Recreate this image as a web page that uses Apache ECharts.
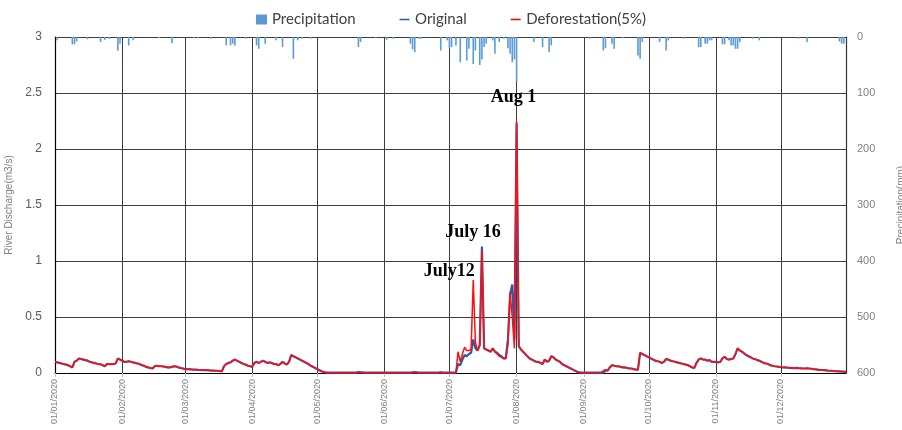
<!DOCTYPE html>
<html>
<head>
<meta charset="utf-8">
<script src="https://cdn.jsdelivr.net/npm/echarts@6/dist/echarts.min.js"></script>
<style>
html,body{margin:0;padding:0;background:#fff;}
#chart{width:902px;height:430px;}
</style>
</head>
<body>
<div id="chart"></div>
<script>
// ---------- DATA ----------
var year = 2020;
var monthLengths = [31,29,31,30,31,30,31,31,30,31,30,31];

// Original discharge (m3/s), by month
var origJan = [0.10,0.095,0.09,0.085,0.08,0.075,0.07,0.06,0.05,0.10,0.11,0.13,0.125,0.12,0.115,0.11,0.10,0.095,0.09,0.085,0.08,0.078,0.07,0.06,0.08,0.08,0.08,0.08,0.085,0.13,0.12];
var origFeb = [0.11,0.10,0.10,0.105,0.10,0.095,0.09,0.085,0.08,0.07,0.065,0.055,0.05,0.045,0.04,0.06,0.065,0.062,0.06,0.058,0.055,0.05,0.05,0.055,0.06,0.058,0.05,0.045,0.04];
var origMar = [0.035,0.034,0.033,0.032,0.03,0.03,0.028,0.027,0.026,0.025,0.025,0.024,0.022,0.022,0.02,0.02,0.018,0.015,0.06,0.08,0.09,0.095,0.11,0.12,0.11,0.10,0.09,0.08,0.075,0.065,0.06];
var origApr = [0.055,0.09,0.10,0.09,0.10,0.11,0.10,0.09,0.095,0.09,0.08,0.08,0.07,0.08,0.10,0.085,0.075,0.10,0.16,0.15,0.14,0.13,0.12,0.11,0.10,0.09,0.08,0.065,0.055,0.045];
var origMay = [0.035,0.025,0.015,0.008,0.005,0.004,0.004,0.004,0.004,0.004,0.004,0.004,0.004,0.004,0.004,0.004,0.004,0.004,0.004,0.005,0.006,0.005,0.004,0.004,0.004,0.004,0.004,0.004,0.004,0.004,0.004];
var origJun = [0.004,0.004,0.004,0.004,0.004,0.004,0.004,0.004,0.004,0.004,0.004,0.004,0.004,0.005,0.006,0.005,0.004,0.004,0.004,0.004,0.004,0.004,0.004,0.004,0.004,0.004,0.005,0.004,0.004,0.004];
var origJul = [0.003,0.003,0.003,0.005,0.08,0.07,0.12,0.16,0.15,0.17,0.18,0.30,0.22,0.20,0.25,1.13,0.22,0.21,0.20,0.19,0.22,0.19,0.18,0.16,0.15,0.13,0.13,0.30,0.70,0.79,0.30];
var origAug = [2.23,0.24,0.21,0.19,0.17,0.15,0.13,0.12,0.11,0.10,0.10,0.09,0.08,0.12,0.10,0.11,0.15,0.14,0.12,0.11,0.10,0.08,0.07,0.06,0.05,0.04,0.03,0.02,0.01,0.005,0.003];
var origSep = [0.003,0.003,0.003,0.003,0.003,0.003,0.003,0.003,0.003,0.003,0.02,0.02,0.05,0.07,0.065,0.06,0.06,0.055,0.05,0.05,0.045,0.04,0.04,0.035,0.03,0.03,0.18,0.17,0.16,0.15];
var origOct = [0.14,0.13,0.12,0.11,0.105,0.10,0.09,0.10,0.125,0.12,0.11,0.105,0.10,0.095,0.09,0.085,0.08,0.075,0.07,0.06,0.05,0.045,0.09,0.12,0.13,0.12,0.12,0.11,0.115,0.10,0.10];
var origNov = [0.10,0.095,0.10,0.13,0.145,0.125,0.12,0.125,0.13,0.17,0.22,0.20,0.19,0.175,0.16,0.15,0.14,0.13,0.125,0.115,0.11,0.10,0.09,0.085,0.08,0.07,0.065,0.06,0.058,0.055];
var origDec = [0.052,0.05,0.05,0.048,0.046,0.045,0.044,0.045,0.043,0.042,0.04,0.04,0.042,0.04,0.038,0.035,0.033,0.03,0.028,0.027,0.025,0.023,0.02,0.02,0.018,0.016,0.015,0.014,0.013,0.012,0.01];

// Deforestation(5%) discharge (m3/s), by month
var defoJan = [0.10,0.095,0.09,0.085,0.08,0.075,0.07,0.06,0.05,0.10,0.11,0.13,0.125,0.12,0.115,0.11,0.10,0.095,0.09,0.085,0.08,0.078,0.07,0.06,0.08,0.08,0.08,0.08,0.085,0.13,0.12];
var defoFeb = [0.11,0.10,0.10,0.105,0.10,0.095,0.09,0.085,0.08,0.07,0.065,0.055,0.05,0.045,0.04,0.06,0.065,0.062,0.06,0.058,0.055,0.05,0.05,0.055,0.06,0.058,0.05,0.045,0.04];
var defoMar = [0.035,0.034,0.033,0.032,0.03,0.03,0.028,0.027,0.026,0.025,0.025,0.024,0.022,0.022,0.02,0.02,0.018,0.015,0.06,0.08,0.09,0.095,0.11,0.12,0.11,0.10,0.09,0.08,0.075,0.065,0.06];
var defoApr = [0.055,0.09,0.10,0.09,0.10,0.11,0.10,0.09,0.095,0.09,0.08,0.08,0.07,0.08,0.10,0.085,0.075,0.10,0.16,0.15,0.14,0.13,0.12,0.11,0.10,0.09,0.08,0.065,0.055,0.045];
var defoMay = [0.035,0.025,0.015,0.008,0.004,0.002,0.002,0.002,0.002,0.002,0.002,0.002,0.002,0.002,0.002,0.002,0.002,0.002,0.002,0.012,0.004,0.002,0.002,0.002,0.002,0.002,0.002,0.002,0.002,0.002,0.002];
var defoJun = [0.002,0.002,0.002,0.002,0.002,0.002,0.002,0.002,0.002,0.002,0.002,0.002,0.002,0.004,0.012,0.004,0.002,0.002,0.002,0.002,0.002,0.002,0.002,0.002,0.002,0.002,0.008,0.003,0.002,0.002];
var defoJul = [0.0,0.0,0.0,0.005,0.19,0.10,0.17,0.23,0.20,0.20,0.21,0.83,0.27,0.20,0.25,1.09,0.22,0.21,0.20,0.19,0.22,0.19,0.17,0.15,0.14,0.13,0.13,0.25,0.72,0.50,0.22];
var defoAug = [2.25,0.24,0.21,0.19,0.17,0.15,0.13,0.12,0.11,0.10,0.10,0.09,0.08,0.12,0.10,0.11,0.15,0.14,0.12,0.11,0.10,0.08,0.07,0.06,0.05,0.04,0.03,0.02,0.01,0.005,0.003];
var defoSep = [0.003,0.003,0.003,0.003,0.003,0.003,0.003,0.003,0.003,0.02,0.03,0.025,0.05,0.07,0.065,0.06,0.06,0.055,0.05,0.05,0.045,0.04,0.04,0.035,0.03,0.03,0.18,0.17,0.16,0.15];
var defoOct = [0.14,0.13,0.12,0.11,0.105,0.10,0.09,0.10,0.125,0.12,0.11,0.105,0.10,0.095,0.09,0.085,0.08,0.075,0.07,0.06,0.05,0.045,0.09,0.12,0.13,0.12,0.12,0.11,0.115,0.10,0.10];
var defoNov = [0.10,0.095,0.10,0.13,0.145,0.125,0.12,0.125,0.13,0.17,0.22,0.20,0.19,0.175,0.16,0.15,0.14,0.13,0.125,0.115,0.11,0.10,0.09,0.085,0.08,0.07,0.065,0.06,0.058,0.055];
var defoDec = [0.052,0.05,0.05,0.048,0.046,0.045,0.044,0.045,0.043,0.042,0.04,0.04,0.042,0.04,0.038,0.035,0.033,0.03,0.028,0.027,0.025,0.023,0.02,0.02,0.018,0.016,0.015,0.014,0.013,0.012,0.01];

// Precipitation (mm), by month
var precJan = [0,6,0,0,0,0,0,0,13,13,8,0,0,0,0,4,0,0,0,0,0,9,0,5,0,3,0,0,0,24,12];
var precFeb = [0,0,0,15,0,6,0,0,0,0,0,0,0,0,0,0,0,2,0,0,0,0,0,11,0,0,0,0,0];
var precMar = [0,0,0,0,2,0,2,0,0,0,0,0,3,0,0,0,0,0,0,15,0,15,12,15,0,0,0,0,3,0,0];
var precApr = [0,0,15,21,0,0,12,0,0,0,0,6,0,0,18,0,0,0,0,39,0,6,0,3,0,0,0,3,0,0];
var precMay = [0,0,0,0,0,0,0,0,0,0,0,0,0,0,0,0,0,0,0,18,9,0,0,0,0,0,0,2,0,0,0];
var precJun = [0,5,0,0,3,0,0,0,0,0,0,0,12,22,27,0,3,3,0,0,0,0,0,0,0,0,24,0,0,6];
var precJul = [20,18,0,15,0,45,0,0,42,21,0,48,24,0,50,40,18,12,0,0,6,30,0,9,0,3,0,20,30,45,40];
var precAug = [80,0,0,0,0,0,0,0,9,0,0,0,18,0,0,27,15,0,0,0,0,0,0,0,0,0,0,0,0,0,0];
var precSep = [0,0,0,3,0,0,0,0,0,24,20,0,0,12,21,0,0,0,2,0,0,0,0,0,0,33,39,9,0,0];
var precOct = [0,0,0,0,0,9,0,0,24,6,0,0,0,0,0,0,3,0,0,0,0,0,0,18,18,0,12,12,6,6,0];
var precNov = [0,0,0,13,13,0,6,15,15,21,21,9,0,0,0,0,0,3,0,0,6,0,0,0,0,0,0,0,0,0];
var precDec = [0,0,0,0,0,0,0,0,3,0,0,0,9,0,0,0,0,0,0,0,0,0,0,0,0,0,0,8,12,12,0];

// Annotations (label text + day index in the year)
var annotationLabels = ["July12", "July 16", "Aug 1"];
var annotationDays = [193, 197, 213];

// ---------- BUILD ----------
var original = [].concat(origJan,origFeb,origMar,origApr,origMay,origJun,origJul,origAug,origSep,origOct,origNov,origDec);
var deforest = [].concat(defoJan,defoFeb,defoMar,defoApr,defoMay,defoJun,defoJul,defoAug,defoSep,defoOct,defoNov,defoDec);
var precip = [].concat(precJan,precFeb,precMar,precApr,precMay,precJun,precJul,precAug,precSep,precOct,precNov,precDec);

function pad(n){ return (n < 10 ? '0' : '') + n; }
var dates = [];
for (var m = 0; m < 12; m++) {
  for (var d = 1; d <= monthLengths[m]; d++) {
    dates.push(pad(d) + '/' + pad(m + 1) + '/' + year);
  }
}
function isMonthStart(idx){ return dates[idx].substring(0,2) === '01'; }

var labelOffsets = [[-24, -9], [-9, -19], [-3, -24]];
var markData = annotationLabels.map(function(t, i){
  return {
    name: t,
    coord: [dates[annotationDays[i]], deforest[annotationDays[i]]],
    label: { offset: labelOffsets[i] }
  };
});

// legend line icon: thin horizontal bar centred in the icon box
var lineIcon = 'path://M0,0 L0.01,0 L0.01,0.01 Z M0,4.3 L10,4.3 L10,5.7 L0,5.7 Z M0,9.99 L0.01,9.99 L0.01,10 Z';

var chart = echarts.init(document.getElementById('chart'), null, {renderer: 'canvas'});
var gridColor = '#3c3c3c';
chart.setOption({
  animation: false,
  backgroundColor: '#ffffff',
  legend: {
    top: 7,
    left: 'center',
    itemGap: 44,
    itemWidth: 11,
    itemHeight: 10,
    textStyle: { fontFamily: 'Lato', fontSize: 15, color: '#404040' },
    data: [
      { name: 'Precipitation', icon: 'rect' },
      { name: 'Original', icon: lineIcon },
      { name: 'Deforestation(5%)', icon: lineIcon }
    ]
  },
  grid: { left: 55, right: 56, top: 37, bottom: 57, containLabel: false, outerBoundsMode: 'none' },
  xAxis: {
    type: 'category',
    data: dates,
    boundaryGap: false,
    axisLine: { lineStyle: { color: '#000', width: 1.2 } },
    axisTick: { show: true, interval: function(i){ return isMonthStart(i); }, length: 4, lineStyle: { color: '#c0c0c0' } },
    axisLabel: {
      interval: function(i){ return isMonthStart(i); },
      rotate: 90,
      fontSize: 9,
      fontFamily: 'Liberation Sans',
      color: '#808080',
      margin: 6
    },
    splitLine: { show: true, interval: function(i){ return isMonthStart(i); }, lineStyle: { color: gridColor, width: 1 } }
  },
  yAxis: [
    {
      type: 'value',
      min: 0, max: 3, interval: 0.5,
      position: 'left',
      name: 'River Discharge(m3/s)',
      nameLocation: 'middle',
      nameGap: 34,
      nameTextStyle: { fontSize: 10, color: '#808080', fontFamily: 'Liberation Sans' },
      axisLine: { show: true, lineStyle: { color: '#000', width: 1.2 } },
      axisTick: { show: false },
      axisLabel: { fontSize: 12, color: '#595959', margin: 13, fontFamily: 'Liberation Sans' },
      splitLine: { show: true, lineStyle: { color: gridColor, width: 1 } }
    },
    {
      type: 'value',
      min: 0, max: 600, interval: 100,
      inverse: true,
      position: 'right',
      name: 'Precipitation(mm)',
      nameLocation: 'middle',
      nameRotate: 90,
      nameGap: 50,
      nameTextStyle: { fontSize: 10, color: '#808080', fontFamily: 'Liberation Sans' },
      axisLine: { show: true, lineStyle: { color: '#333', width: 1.2 } },
      axisTick: { show: false },
      axisLabel: { fontSize: 11, color: '#808080', margin: 11, fontFamily: 'Liberation Sans' },
      splitLine: { show: false }
    }
  ],
  series: [
    {
      name: 'Precipitation',
      type: 'bar',
      yAxisIndex: 1,
      data: precip,
      barWidth: 1.6,
      itemStyle: { color: '#5b9bd5' }
    },
    {
      name: 'Original',
      type: 'line',
      yAxisIndex: 0,
      data: original,
      symbol: 'none',
      itemStyle: { color: '#3556a8' },
      lineStyle: { color: '#3556a8', width: 2.2 }
    },
    {
      name: 'Deforestation(5%)',
      type: 'line',
      yAxisIndex: 0,
      data: deforest,
      symbol: 'none',
      itemStyle: { color: '#ff0000' },
      lineStyle: { color: '#ff1010', width: 1.5 },
      markPoint: {
        symbol: 'circle',
        symbolSize: 0,
        silent: true,
        label: {
          show: true,
          position: 'inside',
          formatter: function(p){ return p.name; },
          fontFamily: 'Liberation Serif',
          fontWeight: 'bold',
          fontSize: 18,
          color: '#000'
        },
        data: markData
      }
    }
  ]
});
</script>
</body>
</html>
